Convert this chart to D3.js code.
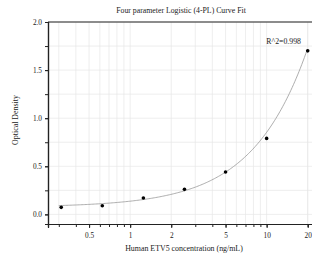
<!DOCTYPE html>
<meta charset="utf-8">
<style>
  body { margin: 0; background: #fff; }
  text { font-family: "Liberation Serif", "Times New Roman", serif; fill: #222; }
  .grid line { stroke: #e6e6e6; stroke-width: 0.7; }
  .axis path, .axis line { stroke: #222; }
</style>
<svg width="312" height="259"></svg>
<script src="https://d3js.org/d3.v7.min.js"></script>
<script>
// standards (ng/mL) and measured OD
var conc = [0.3125, 0.625, 1.25, 2.5, 5, 10, 20];
var od = [0.073, 0.09, 0.17, 0.26, 0.44, 0.79, 1.70];
var xTicks = [0.5, 1, 2, 5, 10, 20];
var yTicks = [0, 0.5, 1.0, 1.5, 2.0];
// 4PL fit parameters (A, B, C, D)
var fitA = 0.075, fitB = 1.1, fitC = 820, fitD = 100;
var r2 = "0.998";

var svg = d3.select("svg");
var mLeft = 48, mRight = 316, mTop = 22, mBottom = 224;

var x = d3.scaleLog().domain([0.25, 23]).range([mLeft, mRight]);
var y = d3.scaleLinear().domain([-0.1, 2]).range([mBottom, mTop]);

var minorX = [];
[0.1, 1, 10].forEach(function(d) {
  for (var k = 1; k < 10; k++) {
    var v = d * k;
    if (v >= 0.25 && v <= 23) minorX.push(+v.toFixed(3));
  }
});
minorX.push(20);
var minorY = d3.range(0, 2.01, 0.25);

// grid
var grid = svg.append("g").attr("class", "grid");
grid.selectAll(".gx").data(minorX).enter().append("line")
    .attr("x1", function(d) { return x(d); }).attr("x2", function(d) { return x(d); })
    .attr("y1", mTop).attr("y2", mBottom);
grid.selectAll(".gy").data(minorY).enter().append("line")
    .attr("x1", mLeft).attr("x2", mRight)
    .attr("y1", function(d) { return y(d); }).attr("y2", function(d) { return y(d); });

// top frame
svg.append("line").attr("x1", mLeft).attr("x2", mRight).attr("y1", mTop).attr("y2", mTop)
    .attr("stroke", "#222").attr("stroke-width", 1.2);

// x axis
var xAxis = svg.append("g").attr("class", "axis")
    .attr("transform", "translate(0," + mBottom + ")");
xAxis.call(d3.axisBottom(x).tickValues(minorX).tickSize(3).tickFormat(""));
xAxis.append("g").call(d3.axisBottom(x).tickValues(xTicks).tickSize(4).tickFormat(d3.format("")));
xAxis.selectAll("path").attr("stroke-width", 1.2);
xAxis.selectAll("text").attr("font-size", 7.3).attr("dy", "0.9em").attr("fill", "#222");

// y axis
var yAxis = svg.append("g").attr("class", "axis")
    .attr("transform", "translate(" + mLeft + ",0)");
yAxis.call(d3.axisLeft(y).tickValues(minorY).tickSize(3).tickFormat(""));
yAxis.append("g").call(d3.axisLeft(y).tickValues(yTicks).tickSize(3).tickFormat(d3.format(".1f")));
yAxis.selectAll("path").attr("stroke-width", 1.2);
yAxis.selectAll("text").attr("font-size", 7.3).attr("fill", "#222");

// fitted curve
function fourPL(c) { return fitD + (fitA - fitD) / (1 + Math.pow(c / fitC, fitB)); }
var curveX = d3.range(Math.log10(0.3), Math.log10(20) + 0.001, 0.01).map(function(l) { return Math.pow(10, l); });
svg.append("path")
    .datum(curveX)
    .attr("fill", "none")
    .attr("stroke", "#999")
    .attr("stroke-width", 0.8)
    .attr("d", d3.line().x(function(d) { return x(d); }).y(function(d) { return y(fourPL(d)); }));

// points
svg.selectAll(".pt").data(conc).enter().append("circle")
    .attr("cx", function(d) { return x(d); })
    .attr("cy", function(d, i) { return y(od[i]); })
    .attr("r", 1.8)
    .attr("fill", "#000");

// texts
svg.append("text").attr("x", 181).attr("y", 12.5).attr("text-anchor", "middle")
    .attr("font-size", 7.8).text("Four parameter Logistic (4-PL) Curve Fit");
svg.append("text").attr("x", 301).attr("y", 43.5).attr("text-anchor", "end")
    .attr("font-size", 7.8).text("R^2=" + r2);
svg.append("text").attr("x", 184).attr("y", 251).attr("text-anchor", "middle")
    .attr("font-size", 7.9).text("Human ETV5 concentration (ng/mL)");
svg.append("text").attr("transform", "translate(17.5,120) rotate(-90)").attr("text-anchor", "middle")
    .attr("font-size", 7.9).text("Optical Density");
</script>
